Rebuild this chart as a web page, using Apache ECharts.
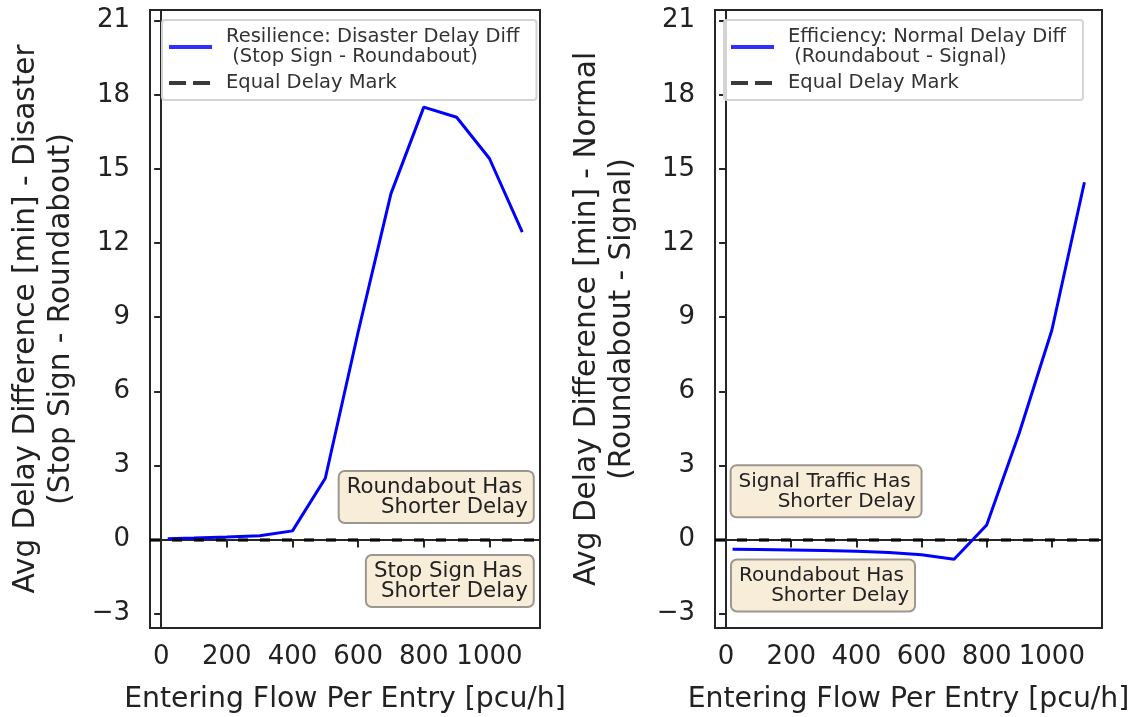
<!DOCTYPE html>
<html>
<head>
<meta charset="utf-8">
<script src="https://cdn.jsdelivr.net/npm/echarts@6/dist/echarts.min.js"></script>
<style>
  html, body { margin: 0; padding: 0; background: #ffffff; }
  #chart { width: 1133px; height: 717px; }
</style>
</head>
<body>
<div id="chart"></div>
<script>
// Entering flow per entry (pcu/h)
const flow = [20, 100, 200, 300, 400, 500, 600, 700, 800, 900, 1000, 1100];
// Disaster delay difference: stop sign minus roundabout (min)
const disasterDiff = [0.03, 0.06, 0.10, 0.15, 0.35, 2.48, 8.40, 14.0, 17.5, 17.09, 15.42, 12.44];
// Normal delay difference: roundabout minus signal (min)
const normalDiff = [-0.39, -0.40, -0.42, -0.44, -0.47, -0.52, -0.62, -0.80, 0.59, 4.31, 8.47, 14.46];

const xTicks = [0, 200, 400, 600, 800, 1000];
const yTicks = [-3, 0, 3, 6, 9, 12, 15, 18, 21];

const seriesNames = [
  'Resilience: Disaster Delay Diff\n (Stop Sign - Roundabout)',
  'Efficiency: Normal Delay Diff\n (Roundabout - Signal)'
];
const refName = 'Equal Delay Mark';
const yTitles = [
  'Avg Delay Difference [min] - Disaster\n(Stop Sign - Roundabout)',
  'Avg Delay Difference [min] - Normal\n(Roundabout - Signal)'
];
const xTitle = 'Entering Flow Per Entry [pcu/h]';
// first line of each note ends with a narrow space so it sits slightly left of the second
const noteTexts = [
  ['Roundabout Has\u2005\nShorter Delay', 'Stop Sign Has\u2005\nShorter Delay'],
  ['Signal Traffic Has\u2005\nShorter Delay', 'Roundabout Has\u2005\nShorter Delay']
];

const FONT = 'DejaVu Sans';
const FRAME = '#262626';
const TXT = '#222222';

const grids = [
  { left: 150, top: 10, width: 390, height: 618 },
  { left: 715, top: 10, width: 387, height: 618 }
];

// note anchors (right edge, vertical middle of each box) in data units
const noteAnchors = [
  [[1132, 1.72], [1132, -1.68]],
  [[597, 1.95], [577, -1.86]]
];
const noteFontSize = [21.3, 20];

const tickFmt = v => (v < 0 ? '\u2212' + Math.abs(v) : String(v));

const xAxes = grids.map((g, i) => ({
  type: 'value', gridIndex: i, min: -34, max: 1154,
  axisLine: { show: true, lineStyle: { color: FRAME, width: 2 } },
  axisTick: { show: true, customValues: xTicks, length: 8, lineStyle: { color: FRAME, width: 2 } },
  axisLabel: { customValues: xTicks, formatter: tickFmt, fontSize: 26, fontFamily: FONT, color: TXT, margin: 16 },
  splitLine: { show: false },
  name: xTitle, nameLocation: 'middle', nameGap: 58,
  nameTextStyle: { fontSize: 28.3, fontFamily: FONT, color: TXT }
}));

const yAxes = grids.map((g, i) => ({
  type: 'value', gridIndex: i, min: -3.58, max: 21.43,
  axisLine: { show: true, lineStyle: { color: FRAME, width: 2 } },
  axisTick: { show: true, customValues: yTicks, length: 7, lineStyle: { color: FRAME, width: 2 } },
  axisLabel: { customValues: yTicks, formatter: tickFmt, fontSize: 26, fontFamily: FONT, color: TXT, margin: 20 },
  splitLine: { show: false },
  name: yTitles[i], nameLocation: 'middle', nameRotate: 90, nameGap: i === 0 ? 71 : 75,
  nameTextStyle: { fontSize: 29.5, fontFamily: FONT, color: TXT, lineHeight: 35, align: 'center' }
}));

const noteLabel = fs => ({
  show: true, position: 'left', distance: 0,
  fontSize: fs, lineHeight: 20, fontFamily: FONT, color: TXT, align: 'right',
  backgroundColor: '#f8edd9', borderColor: '#9c978e', borderWidth: 2, borderRadius: 5,
  padding: [5, 5, 5, 7]
});

const series = [];
[disasterDiff, normalDiff].forEach((vals, i) => {
  series.push({
    name: seriesNames[i], type: 'line', xAxisIndex: i, yAxisIndex: i,
    data: flow.map((f, k) => [f, vals[k]]),
    symbol: 'none', z: 3,
    lineStyle: { color: '#0000ff', width: 3 },
    itemStyle: { color: '#0000ff' },
    markPoint: {
      silent: true, symbol: 'circle', symbolSize: 0,
      label: noteLabel(noteFontSize[i]),
      data: noteAnchors[i].map((c, k) => ({ coord: c, value: 0, label: { formatter: noteTexts[i][k] } }))
    }
  });
  series.push({
    name: refName, type: 'line', xAxisIndex: i, yAxisIndex: i,
    data: [], symbol: 'none', z: 4,
    lineStyle: { color: 'rgba(0,0,0,0.76)', width: 3.5, type: [10, 12] },
    itemStyle: { color: 'rgba(0,0,0,0.76)' },
    markLine: {
      silent: true, symbol: 'none', label: { show: false },
      lineStyle: { color: 'rgba(0,0,0,0.76)', width: 3.5, type: [10, 12] },
      data: [{ yAxis: 0 }]
    }
  });
});

const legends = [
  { left: 162, names: [seriesNames[0], refName] },
  { left: 724, names: [seriesNames[1], refName] }
].map(l => ({
  orient: 'vertical', left: l.left, top: 20,
  data: [
    { name: l.names[0], lineStyle: { width: 4, color: '#2f2fff' } },
    { name: l.names[1], lineStyle: { type: [17, 7], width: 4, color: '#3a3a3a' } }
  ],
  selectedMode: false,
  itemWidth: 43, itemHeight: 10, itemGap: 6,
  itemStyle: { opacity: 0 },
  textStyle: { fontSize: 19.5, lineHeight: 20, fontFamily: FONT, color: '#333', padding: [0, 0, 0, 9] },
  backgroundColor: 'rgba(255,255,255,0.8)', borderColor: '#d4d4d4', borderWidth: 2, borderRadius: 3,
  padding: [7, 17, 7, 5]
}));

const chart = echarts.init(document.getElementById('chart'), null, { renderer: 'canvas' });
chart.setOption({
  animation: false,
  backgroundColor: '#ffffff',
  grid: grids.map(g => Object.assign({ show: true, borderColor: FRAME, borderWidth: 2, backgroundColor: 'transparent', containLabel: false, outerBoundsMode: 'none' }, g)),
  xAxis: xAxes,
  yAxis: yAxes,
  legend: legends,
  series: series
});
</script>
</body>
</html>
